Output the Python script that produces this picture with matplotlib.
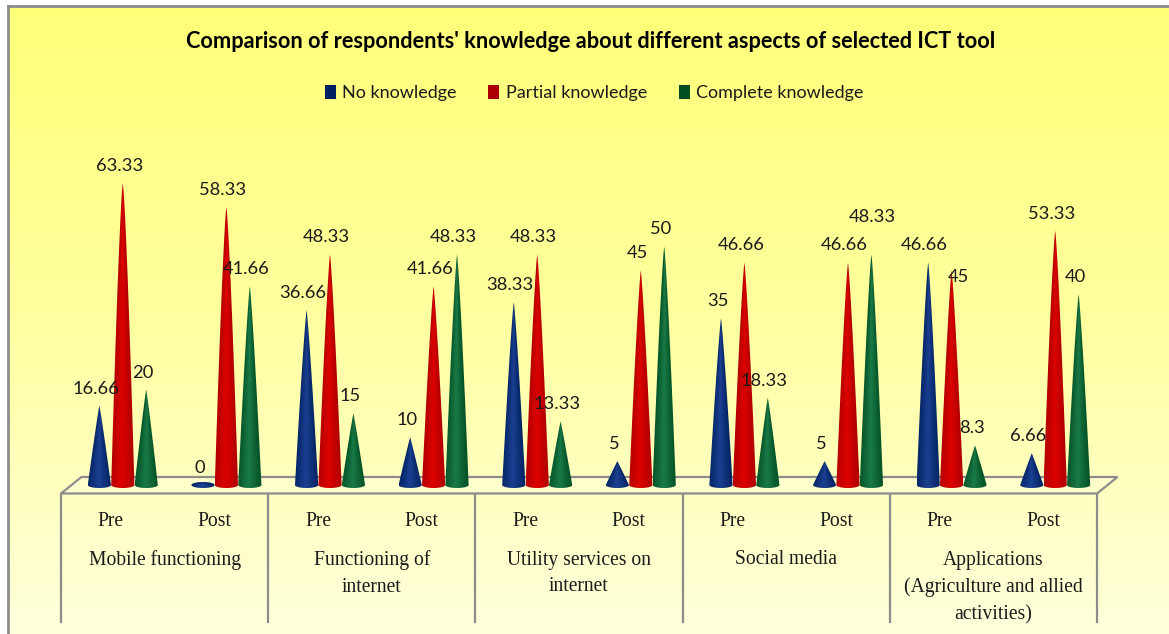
import numpy as np
import matplotlib
matplotlib.use('Agg')
import matplotlib.pyplot as plt
from matplotlib.colors import LinearSegmentedColormap
from matplotlib.patches import Patch, Polygon

# Values
stages = ['Pre', 'Post'] * 5
groups = ['Mobile functioning', 'Functioning of\ninternet', 'Utility services on\ninternet',
          'Social media', 'Applications\n(Agriculture and allied\nactivities)']
no_knowledge = [16.66, 0, 36.66, 10, 38.33, 5, 35, 5, 46.66, 6.66]
partial_knowledge = [63.33, 58.33, 48.33, 41.66, 48.33, 45, 46.66, 46.66, 45, 53.33]
complete_knowledge = [20, 41.66, 15, 48.33, 13.33, 50, 18.33, 48.33, 8.3, 40]

W, H = 1169, 634
fig = plt.figure(figsize=(W / 100, H / 100), dpi=100, facecolor='white')

# Background, frame and floor, in pixel coordinates
bg = fig.add_axes([0, 0, 1, 1])
bg.set_xlim(0, W)
bg.set_ylim(H, 0)
bg.axis('off')
cmap_bg = LinearSegmentedColormap.from_list('bg', ['#ffff78', '#ffffa0', '#ffffdc'])
bg.imshow(np.linspace(0, 1, 256).reshape(-1, 1), extent=[8, W, H, 6], aspect='auto', cmap=cmap_bg)
bg.set_xlim(0, W)
bg.set_ylim(H, 0)
grey = '#8c8c8c'
bg.plot([8, 8], [6, H], color=grey, lw=2)
bg.plot([8, W], [6, 6], color=grey, lw=2)

left, right, front, back, dx = 61, 1097, 493.5, 477, 20.5
bg.add_patch(Polygon([(left, front), (left + dx, back), (right + dx, back), (right, front)],
                     closed=True, facecolor='#ffffcc', edgecolor=grey, lw=1.6))
for i in range(6):
    xd = left + i * (right - left) / 5
    bg.plot([xd, xd], [front, 622], color=grey, lw=1.6)

slot = (right - left) / 10
for i, s in enumerate(stages):
    bg.text(left + (i + 0.5) * slot - 2, 521, s, family='Liberation Serif', fontsize=14.1,
            ha='center', va='center', color='#1a1a1a')
for i, g in enumerate(groups):
    bg.text(left + (i + 0.5) * 2 * slot, 550.5, g, family='Liberation Serif', fontsize=14.1,
            ha='center', va='top', color='#1a1a1a', linespacing=1.55)

bg.text(591, 42, "Comparison of respondents' knowledge about different aspects of selected ICT tool",
        family='Lato', fontweight='bold', fontsize=15.7, ha='center', va='center', color='black')

# Cones, in category / value coordinates
px_unit = 4.77
y_low = -5
y_high = 70
x0_px = left + 0.5 * slot + 10
ax = fig.add_axes([(x0_px - slot / 2) / W, (H - 485 - 5 * px_unit) / H, 10 * slot / W,
                   (y_high - y_low) * px_unit / H])
ax.patch.set_alpha(0)
ax.axis('off')

series = [('No knowledge', no_knowledge, '#002060', '#1c4090'),
          ('Partial knowledge', partial_knowledge, '#ac0000', '#dc0202'),
          ('Complete knowledge', complete_knowledge, '#004d22', '#1a7a46')]
half_w = 0.112
step = 0.226
half_h = 3 / px_unit

# A few labels sit away from the usual spot above the tip (series, category): px offset
label_shift = {(2, 7): (4, 20), (1, 8): (10, -24)}

theta = np.linspace(0, np.pi, 40)
for s, (name, vals, dark, light) in enumerate(series):
    cmap = LinearSegmentedColormap.from_list(name, [light, dark])
    for i, v in enumerate(vals):
        xc = i + (s - 1) * step
        top = max(v, half_h)
        # Tall cones bulge a little, short ones are straight
        power = 1 - 0.25 * v / 63.33
        rows = np.linspace(top, -half_h, 240)
        width = half_w * np.clip(1 - np.clip(rows, 0, None) / top, 0.001, 1) ** power
        if v < half_h:
            t = np.linspace(0, 2 * np.pi, 80)
            pts = np.column_stack([xc + half_w * np.cos(t), half_h * np.sin(t)])
        else:
            arc = np.column_stack([xc + half_w * np.cos(theta), -half_h * np.sin(theta)])
            h = np.linspace(v, 0, 60)
            side = half_w * (1 - h / v) ** power
            pts = np.vstack([np.column_stack([xc + side, h]), arc,
                             np.column_stack([xc - side[::-1], h[::-1]])])
        poly = Polygon(pts, closed=True, transform=ax.transData, facecolor='none', edgecolor='none')
        ax.add_patch(poly)
        # Shade across the cone at each height, light near the middle and dark at the edges
        cols = np.linspace(-half_w, half_w, 96)
        shade = np.abs(cols[None, :] / width[:, None] + 0.1)
        im = ax.imshow(shade, extent=[xc - half_w, xc + half_w, -half_h, top],
                       aspect='auto', cmap=cmap, vmin=0, vmax=1.15, zorder=2 + s * 0.1)
        im.set_clip_path(poly)
        sx, sy = label_shift.get((s, i), (0, 0))
        ax.annotate(f'{v:g}', (xc, v), xytext=((-3.5 + sx) * 0.72, (17 + sy) * 0.72),
                    textcoords='offset points', ha='center', va='center', family='Lato',
                    fontsize=13.2, color='#1a1a1a', zorder=5)
ax.set_xlim(-0.5, 9.5)
ax.set_ylim(y_low, y_high)

handles = [Patch(facecolor=d, edgecolor='none', label=n) for n, _, d, _ in series]
fig.legend(handles=handles, ncols=3, loc='center', bbox_to_anchor=(594 / W, 1 - 93 / H), frameon=False,
           prop={'family': 'Lato', 'size': 13}, handlelength=0.62, handleheight=0.8,
           handletextpad=0.35, columnspacing=1.75, labelcolor='#1a1a1a')

fig.savefig('out.png', dpi=100)
